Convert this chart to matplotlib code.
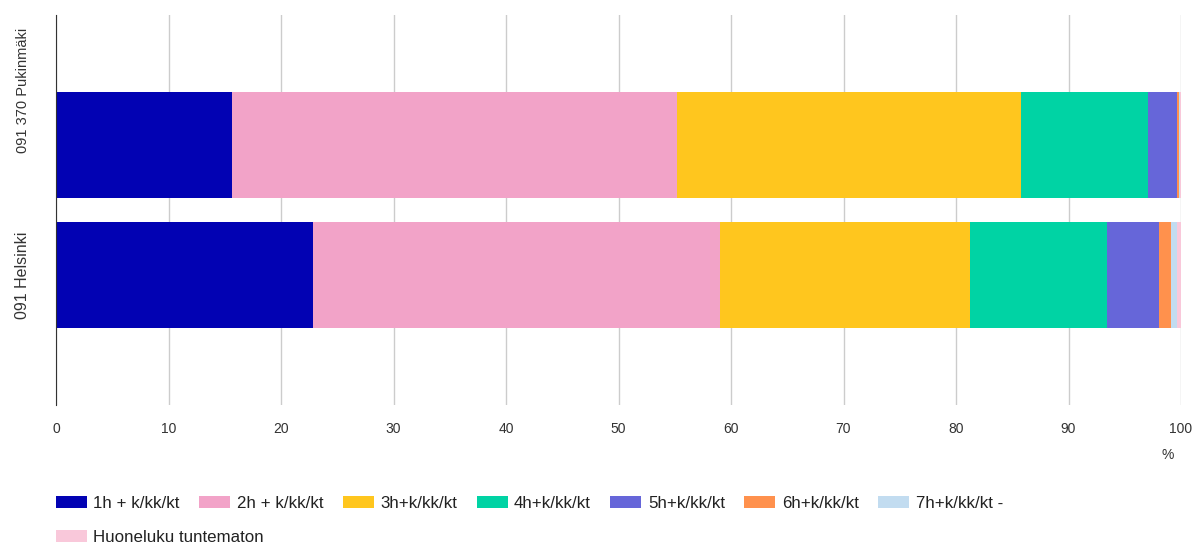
import numpy as np
import matplotlib.pyplot as plt
from matplotlib.transforms import ScaledTranslation

plt.rcParams['font.family'] = ['Liberation Sans', 'DejaVu Sans']

# alueet (alhaalta ylös)
alueet = ['091 Helsinki', '091 370 Pukinmäki']

# huoneistotyypit ja osuudet (%)
tyypit = ['1h + k/kk/kt', '2h + k/kk/kt', '3h+k/kk/kt', '4h+k/kk/kt',
          '5h+k/kk/kt', '6h+k/kk/kt', '7h+k/kk/kt -', 'Huoneluku tuntematon']
helsinki = [22.8, 36.2, 22.2, 12.2, 4.6, 1.1, 0.5, 0.4]
pukinmaki = [15.6, 39.6, 30.6, 11.3, 2.5, 0.25, 0.1, 0.05]
varit = ['#0202B3', '#F2A3C8', '#FFC61E', '#00D3A4', '#6666D9',
         '#FF914D', '#C2DCF0', '#F9C8DA']

osuudet = np.array([helsinki, pukinmaki])

fig = plt.figure(figsize=(11.98, 5.46), dpi=100)
ax = fig.add_axes([56/1198, 1 - 405/546, 1125/1198, 390/546])

y = np.arange(len(alueet))
vasen = np.zeros(len(alueet))
palkit = []
for i, t in enumerate(tyypit):
    b = ax.barh(y, osuudet[:, i], left=vasen, height=0.81,
                color=varit[i], label=t, zorder=3)
    palkit.append(b)
    vasen += osuudet[:, i]

ax.set_xlim(0, 100)
ax.set_ylim(-1, 2)
ax.set_xticks(np.arange(0, 101, 10))
ax.set_yticks(y)
ax.set_yticklabels(alueet, rotation=90, va='center', fontsize=11.5, color='#333333')
ax.tick_params(axis='x', length=0, pad=12, labelsize=10, labelcolor='#333333')
ax.tick_params(axis='y', length=0, pad=19)
# Pukinmäki-teksti on alkuperäisessä kutistettu ja hieman ylempänä
lab = ax.get_yticklabels()[1]
lab.set_fontsize(10.5)
lab.set_transform(lab.get_transform() + ScaledTranslation(0, 0.55, fig.dpi_scale_trans))
ax.grid(axis='x', color='#CCCCCC', linewidth=1, zorder=0)
for s in ['top', 'right', 'bottom']:
    ax.spines[s].set_visible(False)
ax.spines['left'].set_color('#333333')
ax.spines['left'].set_zorder(4)

fig.text(1168/1198, 1 - 455/546, '%', ha='center', va='center',
         fontsize=10, color='#333333')

leg_kw = dict(frameon=False, fontsize=12.2, handlelength=1.83, handleheight=0.7,
              handletextpad=0.38, columnspacing=1.15, borderaxespad=0,
              borderpad=0, labelcolor='#222222')
leg1 = fig.legend(palkit[:7], tyypit[:7], ncol=7, loc='center left',
                  bbox_to_anchor=(56/1198, 1 - 503/546), **leg_kw)
leg2 = fig.legend(palkit[7:], tyypit[7:], ncol=1, loc='center left',
                  bbox_to_anchor=(56/1198, 1 - 537/546), **leg_kw)

plt.savefig('out.png', dpi=100)
